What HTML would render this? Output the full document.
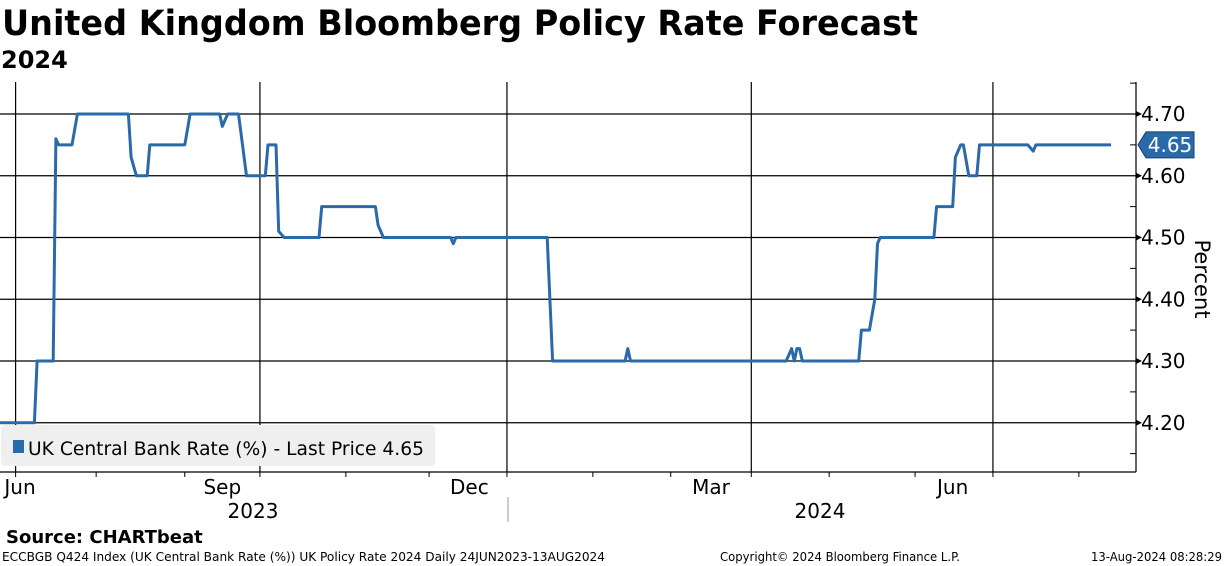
<!DOCTYPE html>
<html><head><meta charset="utf-8"><style>
html,body{margin:0;padding:0;background:#fff;}
svg{display:block;font-family:"DejaVu Sans","Liberation Sans",sans-serif;}
</style></head><body>
<svg id="chart" width="1224" height="566" viewBox="0 0 1224 566">
<text x="2" y="35" font-size="35" font-weight="bold" textLength="916" lengthAdjust="spacingAndGlyphs">United Kingdom Bloomberg Policy Rate Forecast</text>
<text x="1" y="68" font-size="24" font-weight="bold">2024</text>
<g id="grid"></g>
<g id="axes"></g>
<g id="series"></g>
<g>
<rect x="1" y="425" width="434" height="41" rx="4" fill="#efefef"/>
<rect x="13" y="440" width="11" height="13" fill="#2b6aa8"/>
<text x="28" y="455" font-size="19" textLength="396" lengthAdjust="spacingAndGlyphs">UK Central Bank Rate (%) - Last Price 4.65</text>
</g>
<text x="1195" y="279" font-size="21" transform="rotate(90 1195 279)" text-anchor="middle">Percent</text>
<line x1="508" y1="497" x2="508" y2="522" stroke="#999" stroke-width="1"/>
<text x="253" y="518" font-size="20" text-anchor="middle">2023</text>
<text x="820" y="518" font-size="20" text-anchor="middle">2024</text>
<text x="6" y="543" font-size="18" font-weight="bold">Source: CHARTbeat</text>
<text x="2" y="561" font-size="12" textLength="603" lengthAdjust="spacingAndGlyphs">ECCBGB Q424 Index (UK Central Bank Rate (%)) UK Policy Rate 2024  Daily 24JUN2023-13AUG2024</text>
<text x="720" y="561" font-size="12" textLength="240" lengthAdjust="spacingAndGlyphs">Copyright© 2024 Bloomberg Finance L.P.</text>
<text x="1222" y="561" font-size="12" text-anchor="end" textLength="131" lengthAdjust="spacingAndGlyphs">13-Aug-2024 08:28:29</text>
</svg>
<script>
// days since 24-Jun-2023
const days = [0,14,15,21,22,23,28,30,49,50,52,56,57,70,72,83,84,86,90,93,100,101,104,105,107,120,121,141,142,144,169,170,171,205,207,234,235,236,294,296,297,298,299,300,321,322,325,327,328,329,349,350,356,357,359,360,362,365,366,384,386,387,415];
const rates = [4.20,4.20,4.30,4.30,4.66,4.65,4.65,4.70,4.70,4.63,4.60,4.60,4.65,4.65,4.70,4.70,4.68,4.70,4.70,4.60,4.60,4.65,4.65,4.51,4.50,4.50,4.55,4.55,4.52,4.50,4.50,4.49,4.50,4.50,4.30,4.30,4.32,4.30,4.30,4.32,4.30,4.32,4.32,4.30,4.30,4.35,4.35,4.40,4.49,4.50,4.50,4.55,4.55,4.63,4.65,4.65,4.60,4.60,4.65,4.65,4.64,4.65,4.65];
const yTicks = [4.20,4.30,4.40,4.50,4.60,4.70];
const yTickLabels = ["4.20","4.30","4.40","4.50","4.60","4.70"];
const minorTicks = [4.15,4.25,4.35,4.45,4.55,4.65,4.75];
const gridDays = [7,98,190,281,371];
const monthTickDays = [7,37,70,98,130,161,190,222,251,281,310,342,371,403];
const monthLabels = ["Jun","Sep","Dec","Mar","Jun"];
const monthLabelDays = [0,84,176,266,356];
const lastPrice = 4.65;

const NS="http://www.w3.org/2000/svg";
const X0=1136, YB=472;
function x(d){return 15.6+(d-7)*2.685;}
function y(v){return 114+(4.70-v)*617.5;}
function mk(tag,attrs,parent){const e=document.createElementNS(NS,tag);for(const k in attrs)e.setAttribute(k,attrs[k]);parent.appendChild(e);return e;}
const grid=document.getElementById('grid'),axes=document.getElementById('axes'),series=document.getElementById('series');

yTicks.forEach((v,i)=>{
  const l=mk('line',{x1:0,x2:X0,y1:y(v),y2:y(v),stroke:'#000','stroke-width':1.2},grid);
  
  
  const a=mk('path',{d:`M${X0} ${y(v)-3} L${X0+6} ${y(v)} L${X0} ${y(v)+3}Z`,fill:'#000'},axes);
  
  
  const t=mk('text',{x:X0+5,y:y(v)+7,'font-size':20},axes);
  t.textContent=yTickLabels[i];
  
  
});
minorTicks.forEach(v=>{
  const l=mk('line',{x1:X0-6,x2:X0,y1:y(v),y2:y(v),stroke:'#000','stroke-width':1},axes);
  
  
});
gridDays.forEach(d=>{
  const l=mk('line',{x1:x(d),x2:x(d),y1:82,y2:YB,stroke:'#000','stroke-width':1.2},grid);
  
  
});
monthTickDays.forEach(d=>{
  const l=mk('line',{x1:x(d),x2:x(d),y1:YB,y2:YB+5,stroke:'#000','stroke-width':1},axes);
  
  
});
monthLabels.forEach((m,i)=>{
  const cx=Math.max(20,x(monthLabelDays[i]));
  const t=mk('text',{x:cx,y:494,'font-size':20,'text-anchor':'middle'},axes);
  t.textContent=m;
  
  
});
const xa=mk('line',{x1:0,x2:X0,y1:YB,y2:YB,stroke:'#000','stroke-width':1.2},axes);


const ya=mk('line',{x1:X0,x2:X0,y1:82,y2:YB,stroke:'#000','stroke-width':1.2},axes);



const pts=days.map((d,i)=>x(d).toFixed(1)+','+y(rates[i]).toFixed(1)).join(' ');
const line=mk('polyline',{points:pts,fill:'none',stroke:'#2b6aa8','stroke-width':3,'stroke-linejoin':'round'},series);



const ly=y(lastPrice);
const tag=mk('path',{d:`M1138 ${ly} L1146 ${ly-13} L1194 ${ly-13} L1194 ${ly+13} L1146 ${ly+13}Z`,fill:'#2b6aa8',stroke:'#1a3f66','stroke-width':1},axes);


const tt=mk('text',{x:1170,y:ly+7,'font-size':20,fill:'#fff','text-anchor':'middle'},axes);
tt.textContent=lastPrice.toFixed(2);


</script>
</body></html>
